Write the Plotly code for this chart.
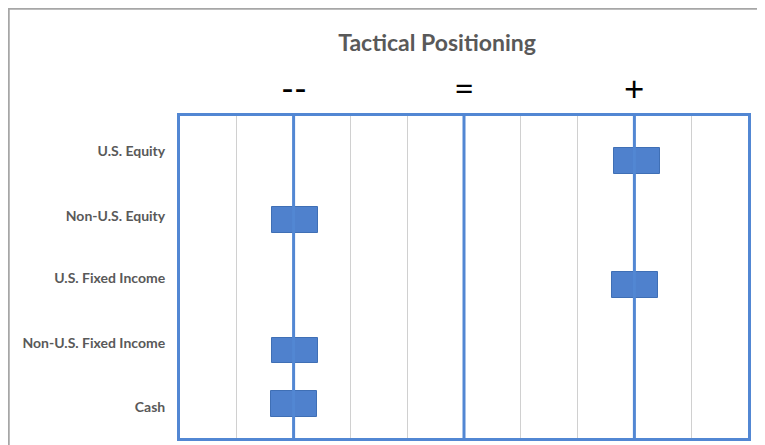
import plotly.graph_objects as go

# ---- data ----
categories = ["U.S. Equity", "Non-U.S. Equity", "U.S. Fixed Income", "Non-U.S. Fixed Income", "Cash"]
category_pos = [0.55, 1.55, 2.52, 3.52, 4.52]          # tick positions of category labels
positioning = [8.05, 2.02, 8.01, 2.03, 2.00]          # marker centre on 0..10 scale
marker_y = [0.70, 1.61, 2.63, 3.64, 4.47]             # marker vertical position (category units)
level_pos = [2, 5, 8]
level_labels = ["--", "=", "+"]
title_text = "Tactical Positioning"

BLUE_LINE = "#5287D3"
BLUE_FILL = "#4F81CD"
BLUE_EDGE = "#3F6FB5"
GREY_TXT = "#595959"

OFF = 8                      # page body margin
W, H = 765 - OFF, 445 - OFF
L, R, T, B = 180 - OFF, 17, 116 - OFF, 7
pw, ph = W - L - R, H - T - B

fig = go.Figure()

# level reference lines
for p in level_pos:
    fig.add_trace(go.Scatter(x=[p, p], y=[0, 5], mode="lines",
                             line=dict(color=BLUE_LINE, width=3),
                             hoverinfo="skip", showlegend=False))

# positioning markers (rectangles) as horizontal bars
bar_len = 0.81
fig.add_trace(go.Bar(
    y=marker_y, x=[bar_len] * len(positioning),
    base=[v - bar_len / 2 for v in positioning],
    orientation="h", width=0.40,
    marker=dict(color=BLUE_FILL, line=dict(color=BLUE_EDGE, width=1)),
    showlegend=False, hoverinfo="skip"))

# level labels above the plot
for p, lab in zip(level_pos, level_labels):
    fig.add_annotation(x=p, xref="x", y=(445 - B - 87) / ph, yref="paper",
                       text=lab, showarrow=False, yanchor="middle",
                       font=dict(family="Lato", size=35, color="#000000"))

# outer chart frame
fig.add_shape(type="rect", xref="paper", yref="paper",
              x0=(0.5 - L) / pw, x1=(W + 20 - L) / pw,
              y0=-0.2, y1=(H - B - 0.5) / ph,
              line=dict(color="#A6A6A6", width=2.5), layer="below")

fig.update_layout(
    width=W, height=H,
    margin=dict(l=L, r=R, t=T, b=B),
    paper_bgcolor="white", plot_bgcolor="white",
    title=dict(text=title_text, x=(437 - OFF) / W, xanchor="center",
               y=1 - (43 - OFF) / H, yanchor="middle",
               font=dict(family="Lato", size=23, color=GREY_TXT, weight="bold")),
    xaxis=dict(range=[0, 10], dtick=1, showgrid=True, gridcolor="#D0D0D0", gridwidth=1,
               showticklabels=False, zeroline=False, ticks="",
               showline=True, linecolor=BLUE_LINE, linewidth=3, mirror=True),
    yaxis=dict(range=[5, 0], tickvals=category_pos, ticktext=categories,
               showgrid=False, zeroline=False, ticks="",
               ticklabelstandoff=9,
               tickfont=dict(family="Lato", size=14, color=GREY_TXT, weight="bold"),
               showline=True, linecolor=BLUE_LINE, linewidth=3, mirror=True),
    bargap=0,
)

fig.write_html("out.html")
